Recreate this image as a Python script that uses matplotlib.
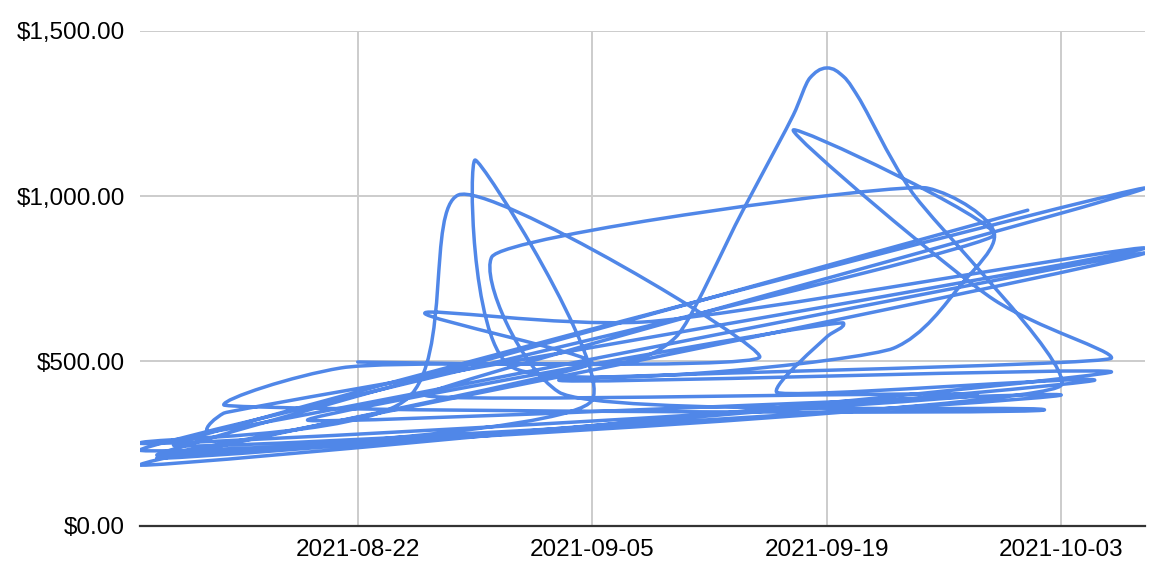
import matplotlib
matplotlib.use("Agg")
import matplotlib.pyplot as plt
import matplotlib.dates as mdates
from matplotlib.path import Path
from matplotlib.patches import PathPatch
from matplotlib.ticker import FuncFormatter
from datetime import datetime
import numpy as np

# data rows in the (unsorted) order they appear in the sheet
dates = [
    "2021-10-01", "2021-08-10", "2021-10-08", "2021-08-13", "2021-08-14",
    "2021-10-08", "2021-09-08", "2021-08-26", "2021-09-05", "2021-08-09",
    "2021-10-06", "2021-09-03", "2021-10-06", "2021-09-29", "2021-09-17",
    "2021-09-29", "2021-08-09", "2021-10-03", "2021-09-24", "2021-09-21",
    "2021-09-20", "2021-09-19", "2021-09-18", "2021-09-17", "2021-09-14",
    "2021-09-10", "2021-09-07", "2021-08-21", "2021-08-14", "2021-10-02",
    "2021-09-03", "2021-08-30", "2021-09-25", "2021-09-29", "2021-09-27",
    "2021-09-23", "2021-08-31", "2021-08-29", "2021-09-05", "2021-08-10",
    "2021-10-05", "2021-09-16", "2021-09-19", "2021-09-20", "2021-08-19",
    "2021-10-03", "2021-08-11", "2021-10-08", "2021-08-26", "2021-09-28",
    "2021-08-09", "2021-08-25", "2021-08-28", "2021-09-15", "2021-08-22",
]
values = [
    957, 215, 827, 285, 342,
    842, 618, 645, 494, 185,
    467, 442, 509, 685, 1200,
    882, 230, 427, 1018, 1290,
    1362, 1388, 1358, 1245, 957,
    573, 497, 479, 367, 352,
    406, 815, 1024, 888, 730,
    539, 488, 1109, 382, 206,
    442, 406, 573, 615, 321,
    397, 245, 1024, 397, 397,
    251, 388, 1003, 512, 497,
]

LINE = "#5087e8"
FONT = "Liberation Sans"

fig = plt.figure(figsize=(11.72, 5.78), dpi=100)
ax = fig.add_axes([140 / 1172, 1 - 526 / 578, (1145 - 140) / 1172, (526 - 31) / 578])
ax.set_xlim(mdates.date2num(datetime(2021, 8, 9)), mdates.date2num(datetime(2021, 10, 8)))
ax.set_ylim(0, 1500)

x = mdates.date2num([datetime.strptime(d, "%Y-%m-%d") for d in dates])
y = np.asarray(values, dtype=float)

# smoothing computed in screen space so turn angles match what is seen
P = ax.transData.transform(np.column_stack([x, y]))
n = len(P)
K = 0.40
tang = np.zeros_like(P)
arm = np.zeros(n)
for i in range(1, n - 1):
    a = P[i] - P[i - 1]
    b = P[i + 1] - P[i]
    la, lb = np.hypot(*a), np.hypot(*b)
    if la == 0 or lb == 0:
        continue
    u0, u1 = a / la, b / lb
    c = float(np.dot(u0, u1))
    s = (1 + c) / 2
    t = u0 + u1
    nt = np.hypot(*t)
    t = np.array([-u0[1], u0[0]]) if nt < 1e-6 else t / nt
    tang[i] = t
    arm[i] = K * s * min(la, lb) + 5.0 * (1 - s)

verts = [P[0]]
codes = [Path.MOVETO]
for i in range(n - 1):
    c1 = P[i] + tang[i] * arm[i]
    c2 = P[i + 1] - tang[i + 1] * arm[i + 1]
    verts += [c1, c2, P[i + 1]]
    codes += [Path.CURVE4] * 3
verts = ax.transData.inverted().transform(np.array(verts))
patch = PathPatch(Path(verts, codes), facecolor="none", edgecolor=LINE,
                  lw=2.5, capstyle="round", joinstyle="round", zorder=3)
ax.add_patch(patch)

xt = ["2021-08-22", "2021-09-05", "2021-09-19", "2021-10-03"]
ax.set_xticks(mdates.date2num([datetime.strptime(d, "%Y-%m-%d") for d in xt]))
ax.set_xticklabels(xt)
ax.set_yticks([0, 500, 1000, 1500])
ax.yaxis.set_major_formatter(FuncFormatter(lambda v, p: "${:,.2f}".format(v)))

for lab in ax.get_xticklabels() + ax.get_yticklabels():
    lab.set_fontfamily(FONT)
    lab.set_fontsize(17.5)
    lab.set_color("#000000")

ax.tick_params(axis="both", length=0)
ax.tick_params(axis="x", pad=9)
ax.tick_params(axis="y", pad=11)
ax.grid(True, color="#cccccc", lw=1.4)
ax.set_axisbelow(True)
for s_ in ["top", "right", "left"]:
    ax.spines[s_].set_visible(False)
ax.spines["bottom"].set_color("#333333")
ax.spines["bottom"].set_linewidth(1.6)
ax.spines["bottom"].set_zorder(4)

fig.savefig("out.png", dpi=100)
